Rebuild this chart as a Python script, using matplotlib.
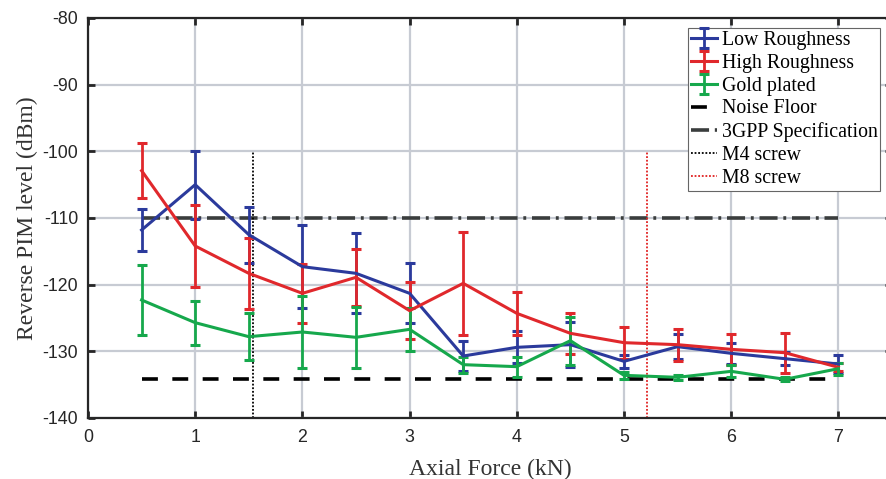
import matplotlib.pyplot as plt
import numpy as np

# axial force steps (kN)
force = [0.5, 1.0, 1.5, 2.0, 2.5, 3.0, 3.5, 4.0, 4.5, 5.0, 5.5, 6.0, 6.5, 7.0]

# reverse PIM level, mean and half error (dBm)
low_mean = [-111.8, -105.0, -112.5, -117.3, -118.3, -121.3, -130.7,
            -129.4, -129.0, -131.5, -129.3, -130.3, -131.1, -131.9]
low_err = [3.2, 5.1, 4.2, 6.2, 6.0, 4.5, 2.2, 2.4, 3.4, 1.0, 1.9, 1.6, 1.0, 1.3]

high_mean = [-102.9, -114.2, -118.3, -121.3, -118.9, -123.9, -119.8,
             -124.3, -127.3, -128.7, -129.0, -129.7, -130.2, -132.4]
high_err = [4.1, 6.2, 5.3, 4.4, 4.3, 4.3, 7.7, 3.2, 3.1, 2.4, 2.4, 2.3, 3.0, 0.6]

gold_mean = [-122.3, -125.7, -127.8, -127.1, -127.9, -126.7, -132.0,
             -132.3, -128.4, -133.6, -133.9, -133.0, -134.2, -132.6]
gold_err = [5.2, 3.3, 3.5, 5.4, 4.6, 3.2, 1.2, 1.5, 3.6, 0.5, 0.4, 0.9, 0.3, 0.9]

noise_floor = -134.2
spec_level = -110.0
m4_force = 1.54
m8_force = 5.21
screw_top = -100.0

BLUE = "#2b3a9c"
RED = "#e0282c"
GREEN = "#16a84c"


def main():
    plt.rcParams.update({
        "font.family": ["Liberation Sans", "DejaVu Sans"],
        "font.size": 12,
        "axes.unicode_minus": False,
    })
    serif = ["Liberation Serif", "DejaVu Serif"]

    fig = plt.figure(figsize=(8.86, 4.79), dpi=100)
    ax = fig.add_axes([88 / 886, 61 / 479, 804 / 886, 400 / 479])

    handles = []
    series = [
        (low_mean, low_err, BLUE, "Low Roughness"),
        (high_mean, high_err, RED, "High Roughness"),
        (gold_mean, gold_err, GREEN, "Gold plated"),
    ]
    for mean, err, color, label in series:
        h = ax.errorbar(force, mean, yerr=err, color=color, linewidth=2.2,
                        elinewidth=2.0, capsize=3.5, capthick=2.2,
                        label=label, zorder=3)
        handles.append(h)

    h, = ax.plot([force[0], force[-1]], [noise_floor, noise_floor],
                 color="black", linestyle=(0, (4.4, 4.0)), linewidth=2.6,
                 label="Noise Floor", zorder=2)
    handles.append(h)
    h, = ax.plot([force[0], force[-1]], [spec_level, spec_level],
                 color="#3a3d3d", linestyle=(0, (5, 1.6, 0.8, 1.6)),
                 linewidth=2.6, label="3GPP Specification", zorder=2)
    handles.append(h)
    h, = ax.plot([m4_force, m4_force], [-140, screw_top], color="black",
                 linestyle=(0, (1, 1)), linewidth=1.3, label="M4 screw",
                 zorder=2)
    handles.append(h)
    h, = ax.plot([m8_force, m8_force], [-140, screw_top], color="#e02020",
                 linestyle=(0, (1, 1)), linewidth=1.3, label="M8 screw",
                 zorder=2)
    handles.append(h)

    ax.set_xlim(0, 7.5)
    ax.set_ylim(-140, -80)
    ax.set_xticks(np.arange(0, 7.1, 1))
    ax.set_yticks(np.arange(-140, -79, 10))

    ax.grid(True, color="#c7cbd3", linewidth=1.6)
    ax.set_axisbelow(True)
    ax.tick_params(direction="in", length=5, width=2, color="#262626",
                   labelcolor="#262626", labelsize=12.8, top=True, right=True)
    ax.tick_params(axis="x", pad=8)
    ax.tick_params(axis="y", pad=7)
    for spine in ax.spines.values():
        spine.set_linewidth(1.6)
        spine.set_color("#262626")

    ax.set_xlabel("Axial Force (kN)", family=serif, fontsize=17,
                  color="#333333", labelpad=9)
    ax.set_ylabel("Reverse PIM level (dBm)", family=serif, fontsize=17,
                  color="#333333", labelpad=3)

    leg = ax.legend(handles=handles, loc="upper left",
                    bbox_to_anchor=(0.746, 0.976),
                    prop={"family": serif, "size": 14.3}, frameon=True,
                    fancybox=False, edgecolor="#666666", framealpha=1,
                    labelspacing=0.2, handlelength=1.3, handletextpad=0.25,
                    borderpad=0.15, borderaxespad=0)
    leg.get_frame().set_linewidth(0.8)

    fig.savefig("out.png", dpi=100)
    plt.close(fig)


if __name__ == "__main__":
    main()
